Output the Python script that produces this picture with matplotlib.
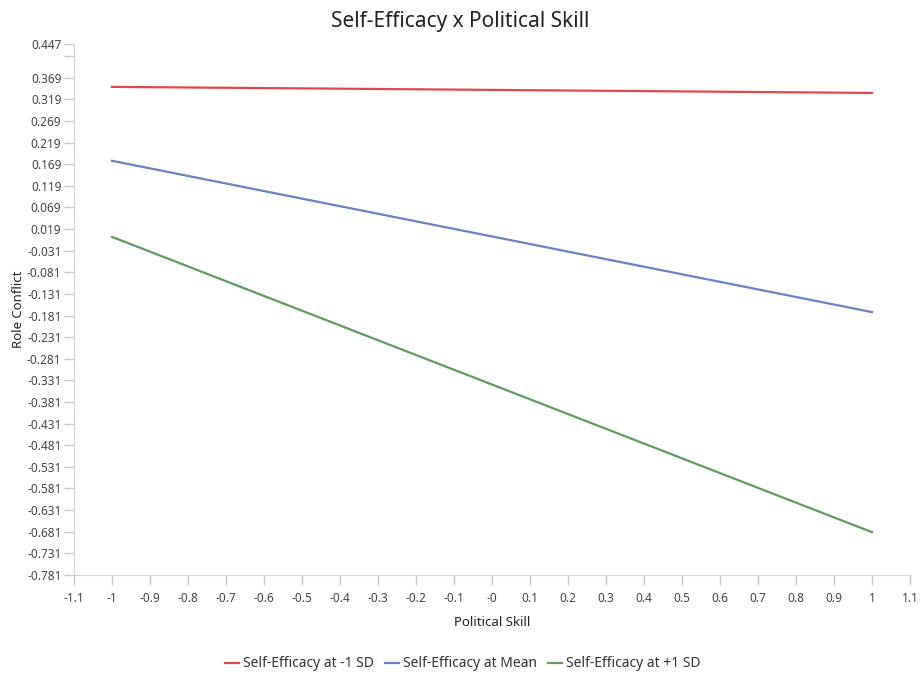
import matplotlib

matplotlib.use("Agg")
import matplotlib.pyplot as plt

plt.rcParams["font.family"] = ["Noto Sans", "DejaVu Sans"]

# data
x_vals = [-1, 1]
low_sd = [0.348, 0.334]
mean_vals = [0.177, -0.173]
high_sd = [0.001, -0.682]
series_names = ["Self-Efficacy at -1 SD", "Self-Efficacy at Mean", "Self-Efficacy at +1 SD"]
series_colors = ["#e0474c", "#6d80c6", "#5f9c5f"]

x_ticks = [-1.1, -1, -0.9, -0.8, -0.7, -0.6, -0.5, -0.4, -0.3, -0.2, -0.1, 0,
           0.1, 0.2, 0.3, 0.4, 0.5, 0.6, 0.7, 0.8, 0.9, 1, 1.1]
x_labels = ["-1.1", "-1", "-0.9", "-0.8", "-0.7", "-0.6", "-0.5", "-0.4", "-0.3", "-0.2",
            "-0.1", "-0", "0.1", "0.2", "0.3", "0.4", "0.5", "0.6", "0.7", "0.8", "0.9", "1", "1.1"]
y_min, y_max = -0.781, 0.447
y_ticks = [round(y_min + 0.05 * k, 3) for k in range(25)] + [y_max]
y_labels = ["%.3f" % v if abs(v - 0.419) > 1e-6 else "" for v in y_ticks]

fig = plt.figure(figsize=(9.21, 6.78), dpi=100)
ax = fig.add_axes([0.0803, 0.152, 0.9077, 0.783])

for vals, name, col in zip([low_sd, mean_vals, high_sd], series_names, series_colors):
    ax.plot(x_vals, vals, color=col, lw=1.6, label=name)

ax.set_xlim(-1.1, 1.1)
ax.set_ylim(y_min, y_max)
ax.set_xticks(x_ticks)
ax.set_xticklabels(x_labels)
ax.set_yticks(y_ticks)
ax.set_yticklabels(y_labels)

for s in ["top", "right"]:
    ax.spines[s].set_visible(False)
for s in ["left", "bottom"]:
    ax.spines[s].set_color("#d6d6d6")
ax.tick_params(colors="#c8c8c8", labelcolor="#444444", labelsize=8.5, length=7, width=1)
ax.tick_params(axis="x", pad=5)
ax.tick_params(axis="y", pad=2)

fig.text(0.5, 0.968, "Self-Efficacy x Political Skill", ha="center", va="center",
         fontsize=15, color="#222222")
ax.set_xlabel("Political Skill", fontsize=9.5, color="#222222", labelpad=8)
ax.set_ylabel("Role Conflict", fontsize=9.5, color="#222222")
ax.yaxis.set_label_coords(-0.058, 0.5)

ax.legend(loc="upper center", bbox_to_anchor=(0.465, -0.13), ncol=3, frameon=False,
          fontsize=10, handlelength=1.0, handletextpad=0.3, columnspacing=0.8,
          labelcolor="#333333")

fig.savefig("out.png", dpi=100, facecolor="white")
